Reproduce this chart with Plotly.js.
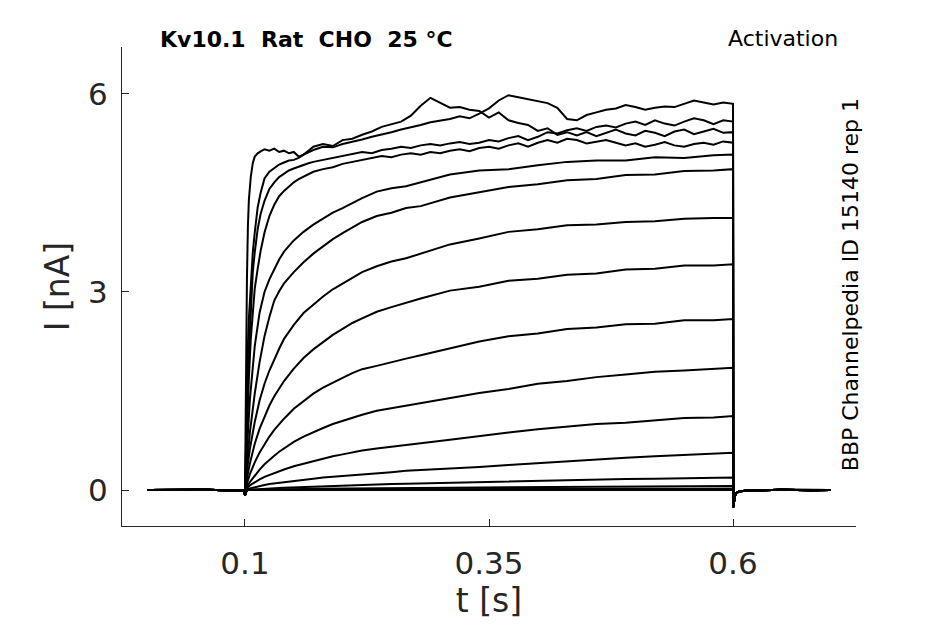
<!DOCTYPE html>
<html>
<head>
<meta charset="utf-8">
<script src="https://cdn.plot.ly/plotly-3.0.1.min.js"></script>
<style>html,body{margin:0;padding:0;background:#fff;}#plot{width:945px;height:624px;}</style>
</head>
<body>
<div id="plot"></div>
<script>
// time grids (s)
const tPre = [0, 0.02, 0.04, 0.06, 0.08, 0.0995];
const iPre = [0, 0.004, -0.003, 0.003, -0.002, 0];
const tOnset = [0.1];
const iOnset = [-0.08];
const tTail = [0.6003, 0.601, 0.602, 0.604, 0.607, 0.62, 0.65, 0.68, 0.7];
const iTail = [-0.26, -0.15, -0.08, -0.04, -0.02, -0.005, 0.003, -0.002, 0];

const tStep = [0.102, 0.105, 0.11, 0.115, 0.12, 0.125, 0.13, 0.135, 0.14, 0.15, 0.16, 0.17, 0.18, 0.19, 0.2, 0.21,
  0.22, 0.235, 0.25, 0.265, 0.28, 0.31, 0.34, 0.37, 0.4, 0.43, 0.46, 0.49, 0.52, 0.55, 0.58, 0.6];
const tFine = [0.101, 0.102, 0.103, 0.104, 0.106, 0.108, 0.11, 0.113, 0.116, 0.12, 0.125, 0.13, 0.135, 0.14, 0.145, 0.15, 0.155, 0.16, 0.165, 0.17, 0.18, 0.19,
  0.20, 0.21, 0.22, 0.23, 0.24, 0.25, 0.26, 0.27, 0.28, 0.29, 0.30, 0.31, 0.32, 0.33, 0.34, 0.35, 0.36, 0.37, 0.38, 0.39, 0.40,
  0.41, 0.42, 0.43, 0.44, 0.45, 0.46, 0.47, 0.48, 0.49, 0.50, 0.51, 0.52, 0.53, 0.54, 0.55, 0.56, 0.57, 0.58, 0.59, 0.60];

// currents (nA), largest sweeps on the fine grid
const p1 = [1.8, 3.2, 4.0, 4.4, 4.75, 4.95, 5.05, 5.1, 5.13, 5.16, 5.14, 5.17, 5.12, 5.14, 5.1, 5.12, 5.05, 5.08, 5.14, 5.2, 5.24, 5.21,
  5.3, 5.32, 5.38, 5.43, 5.5, 5.54, 5.58, 5.67, 5.82, 5.94, 5.86, 5.79, 5.8, 5.76, 5.74, 5.64, 5.72, 5.6, 5.56, 5.53, 5.44,
  5.48, 5.38, 5.42, 5.37, 5.42, 5.36, 5.41, 5.46, 5.4, 5.37, 5.44, 5.41, 5.36, 5.43, 5.46, 5.39, 5.43, 5.47, 5.41, 5.42];
const p2 = [0.8, 1.6, 2.2, 2.6, 3.2, 3.6, 3.9, 4.28, 4.5, 4.72, 4.82, 4.88, 4.93, 4.96, 4.99, 5.0, 5.03, 5.08, 5.12, 5.15, 5.2, 5.19,
  5.24, 5.27, 5.31, 5.35, 5.38, 5.42, 5.46, 5.49, 5.53, 5.57, 5.59, 5.62, 5.66, 5.63, 5.7, 5.78, 5.9, 5.98, 5.95, 5.92, 5.89,
  5.86, 5.79, 5.62, 5.6, 5.68, 5.72, 5.76, 5.78, 5.83, 5.8, 5.76, 5.79, 5.81, 5.8, 5.85, 5.9, 5.87, 5.84, 5.87, 5.85];
const p3 = [0.6, 1.2, 1.7, 2.1, 2.8, 3.3, 3.6, 3.95, 4.18, 4.38, 4.56, 4.66, 4.74, 4.79, 4.84, 4.87, 4.9, 4.93, 4.95, 4.97, 5.0, 5.02,
  5.06, 5.08, 5.12, 5.1, 5.15, 5.17, 5.2, 5.18, 5.22, 5.24, 5.22, 5.25, 5.27, 5.24, 5.26, 5.3, 5.28, 5.33, 5.36, 5.3, 5.35,
  5.42, 5.4, 5.45, 5.48, 5.44, 5.5, 5.52, 5.49, 5.55, 5.58, 5.53, 5.6, 5.55, 5.52, 5.58, 5.63, 5.6, 5.54, 5.6, 5.58];
const p4 = [0.4, 0.9, 1.3, 1.7, 2.3, 2.75, 3.05, 3.35, 3.62, 3.9, 4.15, 4.32, 4.45, 4.53, 4.6, 4.66, 4.71, 4.75, 4.79, 4.82, 4.86, 4.89,
  4.94, 4.97, 5.0, 5.04, 5.06, 5.04, 5.08, 5.1, 5.08, 5.12, 5.1, 5.14, 5.16, 5.13, 5.18, 5.2, 5.17, 5.22, 5.25, 5.2, 5.26,
  5.3, 5.26, 5.32, 5.3, 5.25, 5.28, 5.3, 5.26, 5.22, 5.25, 5.2, 5.23, 5.27, 5.22, 5.2, 5.24, 5.26, 5.23, 5.28, 5.26];

// smaller sweeps on the step grid
const s5  = [0.61, 1.37, 2.18, 2.69, 3.00, 3.19, 3.35, 3.49, 3.61, 3.78, 3.91, 4.02, 4.11, 4.20, 4.27, 4.35,
  4.42, 4.52, 4.57, 4.60, 4.66, 4.78, 4.84, 4.86, 4.92, 4.97, 4.99, 4.99, 5.04, 5.03, 5.07, 5.08];
const s6  = [0.39, 0.87, 1.46, 1.94, 2.33, 2.62, 2.87, 3.01, 3.13, 3.30, 3.45, 3.58, 3.69, 3.80, 3.89, 3.98,
  4.06, 4.15, 4.20, 4.27, 4.30, 4.43, 4.51, 4.59, 4.63, 4.69, 4.71, 4.77, 4.78, 4.83, 4.84, 4.86];
const s7  = [0.29, 0.62, 1.03, 1.36, 1.61, 1.81, 1.98, 2.14, 2.29, 2.50, 2.68, 2.81, 2.93, 3.04, 3.13, 3.22,
  3.30, 3.39, 3.46, 3.51, 3.58, 3.72, 3.81, 3.91, 3.95, 4.01, 4.02, 4.06, 4.07, 4.11, 4.12, 4.12];
const s8  = [0.18, 0.40, 0.70, 0.93, 1.12, 1.28, 1.42, 1.54, 1.65, 1.84, 2.00, 2.13, 2.24, 2.35, 2.44, 2.53,
  2.60, 2.70, 2.77, 2.84, 2.90, 3.02, 3.08, 3.17, 3.20, 3.26, 3.28, 3.34, 3.35, 3.40, 3.40, 3.42];
const s9  = [0.10, 0.24, 0.42, 0.57, 0.70, 0.81, 0.91, 1.00, 1.08, 1.23, 1.35, 1.46, 1.55, 1.63, 1.70, 1.77,
  1.83, 1.88, 1.94, 1.99, 2.04, 2.15, 2.25, 2.33, 2.37, 2.44, 2.46, 2.51, 2.52, 2.57, 2.57, 2.59];
const s10 = [0.05, 0.12, 0.22, 0.31, 0.39, 0.46, 0.52, 0.58, 0.63, 0.73, 0.81, 0.88, 0.94, 1.00, 1.05, 1.10,
  1.14, 1.20, 1.24, 1.28, 1.31, 1.39, 1.47, 1.53, 1.61, 1.65, 1.71, 1.75, 1.79, 1.81, 1.84, 1.85];
const s11 = [0.03, 0.07, 0.12, 0.16, 0.20, 0.23, 0.26, 0.29, 0.31, 0.36, 0.40, 0.44, 0.47, 0.51, 0.54, 0.57,
  0.60, 0.63, 0.66, 0.68, 0.71, 0.76, 0.82, 0.87, 0.92, 0.96, 1.00, 1.02, 1.06, 1.09, 1.10, 1.12];
const s12 = [0.01, 0.025, 0.045, 0.06, 0.075, 0.09, 0.10, 0.11, 0.12, 0.14, 0.16, 0.17, 0.19, 0.20, 0.21, 0.22,
  0.24, 0.25, 0.27, 0.29, 0.30, 0.32, 0.35, 0.38, 0.41, 0.44, 0.47, 0.49, 0.51, 0.53, 0.56, 0.565];
const s13 = [0.003, 0.006, 0.012, 0.016, 0.02, 0.024, 0.028, 0.031, 0.034, 0.04, 0.046, 0.052, 0.057, 0.062, 0.067, 0.072,
  0.077, 0.083, 0.09, 0.095, 0.10, 0.11, 0.12, 0.13, 0.14, 0.15, 0.155, 0.165, 0.17, 0.18, 0.185, 0.19];
const s14 = [0, 0.002, 0.004, 0.006, 0.008, 0.009, 0.01, 0.011, 0.012, 0.014, 0.016, 0.018, 0.02, 0.022, 0.024, 0.025,
  0.027, 0.028, 0.03, 0.032, 0.034, 0.036, 0.04, 0.042, 0.045, 0.048, 0.05, 0.052, 0.055, 0.057, 0.059, 0.06];
const s15 = [0, 0, 0.001, 0.002, 0.003, 0.003, 0.004, 0.004, 0.005, 0.006, 0.007, 0.008, 0.009, 0.009, 0.01, 0.011,
  0.011, 0.012, 0.012, 0.013, 0.013, 0.014, 0.015, 0.016, 0.016, 0.017, 0.017, 0.018, 0.019, 0.019, 0.02, 0.02];
const s16 = [0, 0.002, -0.002, 0.001, -0.001, 0.002, 0, -0.002, 0.001, 0.002, -0.001, 0, 0.002, -0.002, 0.001, 0,
  -0.001, 0.002, 0, -0.002, 0.001, 0, 0.001, 0, -0.001, 0.002, 0, -0.001, 0.001, 0, 0.002, 0];

const xTickVals = [0.1, 0.35, 0.6];
const xTickText = ['0.1', '0.35', '0.6'];
const yTickVals = [0, 3, 6];
const yTickText = ['0', '3', '6'];

const fineSweeps = [p1, p2, p3, p4];
const stepSweeps = [s5, s6, s7, s8, s9, s10, s11, s12, s13, s14, s15, s16];

const traces = [];
function addSweep(tMain, iMain) {
  traces.push({
    type: 'scatter', mode: 'lines',
    x: tPre.concat(tOnset, tMain, tTail),
    y: iPre.concat(iOnset, iMain, iTail),
    line: {color: '#000000', width: 2},
    hoverinfo: 'skip', showlegend: false
  });
}
stepSweeps.slice().reverse().forEach(s => addSweep(tStep, s));
fineSweeps.forEach(s => addSweep(tFine, s));

const axisColor = '#262626';
const font = 'DejaVu Sans, Liberation Sans, sans-serif';

const layout = {
  width: 945, height: 624,
  margin: {l: 122, r: 89, t: 47, b: 98},
  paper_bgcolor: '#ffffff', plot_bgcolor: '#ffffff',
  showlegend: false,
  font: {family: font, color: axisColor},
  xaxis: {
    range: [-0.026, 0.726],
    tickmode: 'array', tickvals: xTickVals, ticktext: xTickText,
    ticks: 'inside', ticklen: 7, tickwidth: 1, tickcolor: axisColor,
    showline: true, linecolor: axisColor, linewidth: 1,
    showgrid: false, zeroline: false,
    ticklabelstandoff: 10,
    tickfont: {size: 31, color: axisColor, family: font},
    title: {text: 't [s]', font: {size: 33, color: axisColor, family: font}, standoff: 6}
  },
  yaxis: {
    range: [-0.545, 6.71],
    tickmode: 'array', tickvals: yTickVals, ticktext: yTickText,
    ticks: 'inside', ticklen: 7, tickwidth: 1, tickcolor: axisColor,
    showline: true, linecolor: axisColor, linewidth: 1,
    showgrid: false, zeroline: false,
    ticklabelstandoff: 7,
    tickfont: {size: 31, color: axisColor, family: font},
    title: {text: 'I [nA]', font: {size: 33, color: axisColor, family: font}, standoff: 8}
  },
  annotations: [
    {text: '<b>Kv10.1  Rat  CHO  25 °C</b>', xref: 'paper', yref: 'paper', x: 0.049, y: 1.015,
     xanchor: 'left', yanchor: 'middle', showarrow: false, font: {size: 22, color: '#000000', family: font}},
    {text: 'Activation', xref: 'paper', yref: 'paper', x: 0.978, y: 1.017,
     xanchor: 'right', yanchor: 'middle', showarrow: false, font: {size: 22, color: '#000000', family: font}},
    {text: 'BBP Channelpedia ID 15140 rep 1', xref: 'paper', yref: 'paper', x: 0.992, y: 0.503,
     xanchor: 'center', yanchor: 'middle', textangle: -90, showarrow: false, font: {size: 22, color: '#000000', family: font}}
  ]
};

Plotly.newPlot('plot', traces, layout, {staticPlot: true, displayModeBar: false});
</script>
</body>
</html>
